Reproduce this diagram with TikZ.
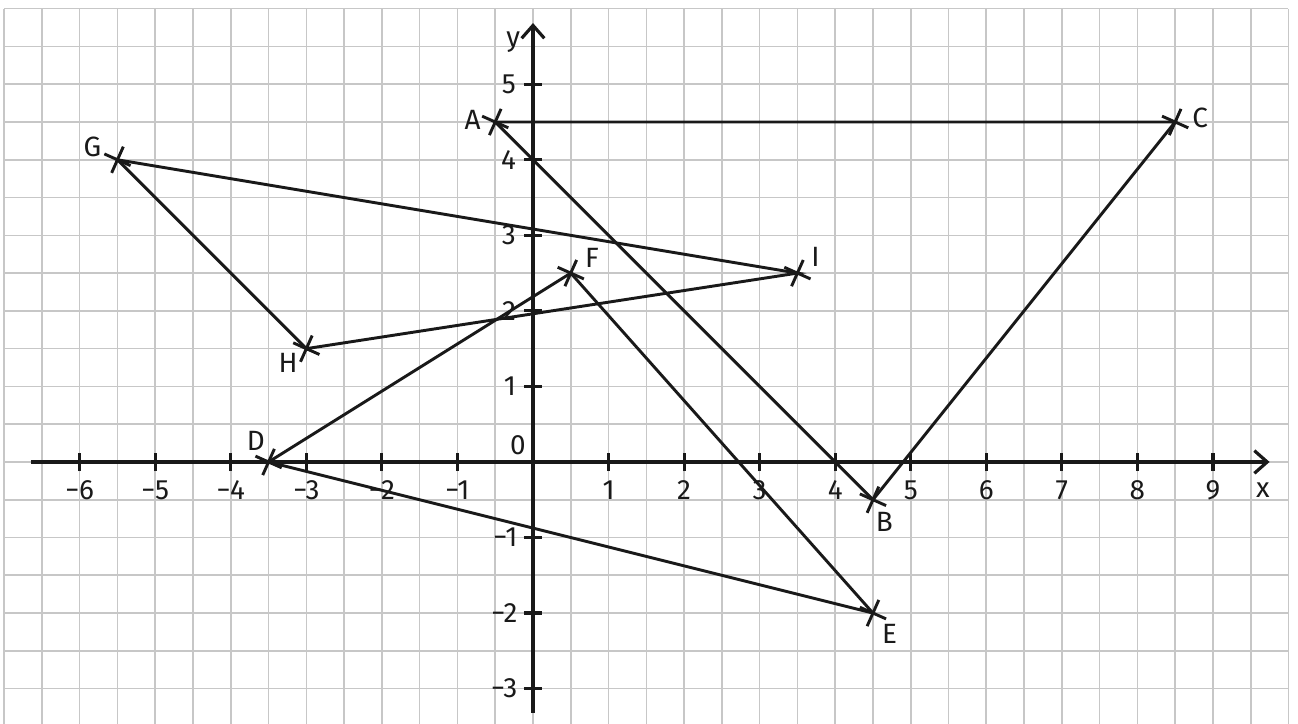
\documentclass[tikz,border=0pt]{standalone}
\usepackage{fontspec}
\setmainfont{Fira Sans}
\usetikzlibrary{calc,arrows.meta}

\begin{document}
\begin{tikzpicture}[>={Straight Barb[length=1.7mm,width=3mm]},
  font=\fontsize{10.5}{12}\selectfont,
  gitter/.style={black!22, line width=0.6pt},
  achse/.style={black!90, line width=1.2pt},
  seite/.style={black!90, line width=1.1pt},
  kreuz/.style={black!90, line width=1.1pt},
  beschr/.style={inner sep=0pt, text=black!90}]
  \useasboundingbox (-7.055,-3.468) rectangle (10.126,6.115);
  % ------- grid (half units) -------
  \foreach \x in {-7,-6.5,...,10}
    \draw[gitter] (\x,-3.468) -- (\x,6);
  \foreach \y in {-3,-2.5,...,6}
    \draw[gitter] (-7,\y) -- (10,\y);
  % ------- axes -------
  \coordinate (xl) at (-6.65,0);
  \coordinate (xr) at (9.75,0);
  \coordinate (yu) at (0,-3.32);
  \coordinate (yo) at (0,5.81);
  \draw[achse,->] (xl) -- (xr);
  \draw[achse,->] (yu) -- (yo);
  \foreach \x in {-6,...,-1,1,2,...,9}
    \draw[achse] (\x,-0.12) -- (\x,0.12);
  \foreach \y in {-3,-2,-1,1,2,3,4,5}
    \draw[achse] (-0.12,\y) -- (0.12,\y);
  \foreach \n in {1,...,6}
    \node[beschr] (xn\n) at (-\n,-0.37) {−\n};
  \foreach \n in {1,...,9}
    \node[beschr] (xp\n) at (\n,-0.37) {\n};
  \foreach \n in {1,2,3}
    \node[beschr, anchor=east] (yn\n) at (-0.2,-\n) {−\n};
  \foreach \n in {1,...,5}
    \node[beschr, anchor=east] (yp\n) at (-0.22,\n) {\n};
  \node[beschr] (null) at (-0.2,0.22) {0};
  \node[beschr] (xlab) at (9.66,-0.37) {x};
  \node[beschr] (ylab) at (-0.26,5.56) {y};
  % ------- points -------
  \coordinate (A) at (-0.5,4.5);
  \coordinate (B) at (4.5,-0.5);
  \coordinate (C) at (8.5,4.5);
  \coordinate (D) at (-3.5,0);
  \coordinate (E) at (4.5,-2);
  \coordinate (F) at (0.5,2.5);
  \coordinate (G) at (-5.5,4);
  \coordinate (H) at (-3,1.5);
  \coordinate (I) at (3.5,2.5);
  % ------- triangles -------
  \draw[seite] (A) -- (B) -- (C) -- cycle;
  \draw[seite] (D) -- (E) -- (F) -- cycle;
  \draw[seite] (G) -- (H) -- (I) -- cycle;
  \foreach \p in {A,B,C,D,E,F,G,H,I}
    \draw[kreuz, shift={(\p)}] (-24:0.19) -- (156:0.19) (66:0.19) -- (246:0.19);
  % ------- labels -------
  \node[beschr] (lA) at ($(A)+(-0.3,0.03)$) {A};
  \node[beschr] (lB) at ($(B)+(0.15,-0.29)$) {B};
  \node[beschr] (lC) at ($(C)+(0.33,0.05)$) {C};
  \node[beschr] (lD) at ($(D)+(-0.17,0.28)$) {D};
  \node[beschr] (lE) at ($(E)+(0.22,-0.28)$) {E};
  \node[beschr] (lF) at ($(F)+(0.28,0.2)$) {F};
  \node[beschr] (lG) at ($(G)+(-0.33,0.17)$) {G};
  \node[beschr] (lH) at ($(H)+(-0.24,-0.19)$) {H};
  \node[beschr] (lI) at ($(I)+(0.24,0.22)$) {I};
\end{tikzpicture}
\end{document}
